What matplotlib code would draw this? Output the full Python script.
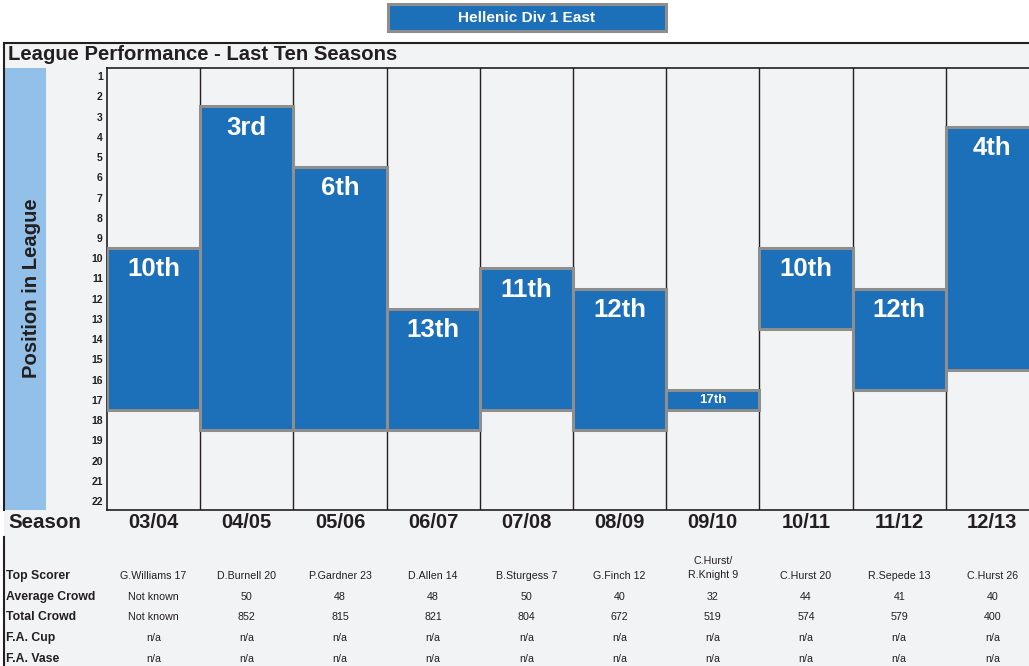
import numpy as np
import matplotlib
matplotlib.use('Agg')
from matplotlib import pyplot as plt
from matplotlib.patches import Rectangle
from matplotlib.lines import Line2D
import matplotlib.transforms as mtrans

plt.rcParams['font.family'] = ['Liberation Sans', 'DejaVu Sans']

seasons = ['03/04', '04/05', '05/06', '06/07', '07/08', '08/09', '09/10', '10/11', '11/12', '12/13']
position = [10, 3, 6, 13, 11, 12, 17, 10, 12, 4]
teams = [17, 18, 18, 18, 17, 18, 17, 13, 16, 15]
pos_label = ['10th', '3rd', '6th', '13th', '11th', '12th', '17th', '10th', '12th', '4th']

row_names = ['Top Scorer', 'Average Crowd', 'Total Crowd', 'F.A. Cup', 'F.A. Vase']
top_scorer = ['G.Williams 17', 'D.Burnell 20', 'P.Gardner 23', 'D.Allen 14', 'B.Sturgess 7',
              'G.Finch 12', 'C.Hurst/\nR.Knight 9', 'C.Hurst 20', 'R.Sepede 13', 'C.Hurst 26']
avg_crowd = ['Not known', '50', '48', '48', '50', '40', '32', '44', '41', '40']
total_crowd = ['Not known', '852', '815', '821', '804', '672', '519', '574', '579', '400']
fa_cup = ['n/a'] * 10
fa_vase = ['n/a'] * 10

W, H = 1029, 666
blue = '#1c6fb9'
edge = '#8e8e8e'
panel = '#f2f3f5'
dark = '#231f20'

def fx(px):
    return px / W

def fy(py):
    return 1 - py / H

fig = plt.figure(figsize=(W / 100, H / 100), dpi=100)
fig.patch.set_facecolor('white')

# outer panel
fig.patches.append(Rectangle((fx(4), 0), 1, fy(43), transform=fig.transFigure,
                             facecolor=panel, edgecolor='none', zorder=0))
fig.lines.append(Line2D([fx(4), 1], [fy(43), fy(43)], transform=fig.transFigure, color=dark, lw=1.5))
fig.lines.append(Line2D([fx(4), fx(4)], [fy(43), fy(510)], transform=fig.transFigure, color=dark, lw=1.5))
fig.lines.append(Line2D([fx(4), fx(4)], [fy(537), 0], transform=fig.transFigure, color=dark, lw=1.5))

# header box
fig.patches.append(Rectangle((fx(388), fy(31)), fx(278), 27 / H, transform=fig.transFigure,
                             facecolor=blue, edgecolor=edge, lw=2.2, zorder=2))
fig.text(fx(527), fy(18), 'Hellenic Div 1 East', color='white', fontsize=11.1,
         fontweight='bold', ha='center', va='center')

fig.text(fx(8), fy(55), 'League Performance - Last Ten Seasons', color=dark, fontsize=14.6,
         fontweight='bold', ha='left', va='center')

# side label
fig.patches.append(Rectangle((fx(5), fy(510)), fx(41), 442 / H, transform=fig.transFigure,
                             facecolor='#92c0e8', edgecolor='none', zorder=1))
fig.text(fx(32), fy(288), 'Position in League', color=dark, fontsize=14.6, fontweight='bold',
         rotation=90, ha='center', va='center')

colw = 93.2
ax = fig.add_axes([fx(107), fy(510), fx(colw * 10), 442 / H])
ax.set_zorder(5)
ax.set_facecolor(panel)
x = np.arange(len(seasons))
bottoms = np.array(position) - 0.5
heights = np.array(teams) - np.array(position) + 1
ax.bar(x + 0.5, heights, bottom=bottoms, width=1.0, color=blue, edgecolor=edge, lw=2.2, zorder=3)
for i in range(len(seasons)):
    if teams[i] - position[i] < 1:
        ax.text(i + 0.5, position[i], pos_label[i], color='white', fontsize=9.5,
                fontweight='bold', ha='center', va='center', zorder=4)
    else:
        ax.text(i + 0.5, position[i] + 0.55, pos_label[i], color='white', fontsize=18.5,
                fontweight='bold', ha='center', va='center', zorder=4)
for b in range(1, 10):
    ax.axvline(b, color=dark, lw=1.0, zorder=1)
ax.set_xlim(0, 10)
ax.set_ylim(22.44, 0.6)
ax.set_yticks(range(1, 23))
ax.set_yticklabels([str(v) for v in range(1, 23)], fontsize=7.5, fontweight='bold', color=dark)
ax.tick_params(axis='y', length=0, pad=3)
ax.set_xticks([])
for s in ['left', 'bottom', 'top']:
    ax.spines[s].set_color(dark)
    ax.spines[s].set_linewidth(1.2)
ax.spines['right'].set_visible(False)

# season row and table
tr = mtrans.blended_transform_factory(ax.transData, fig.transFigure)
fig.text(fx(8), fy(523), 'Season', color=dark, fontsize=14.8, fontweight='bold', ha='left', va='center')
for i, s in enumerate(seasons):
    ax.text(i + 0.5, fy(523), s, transform=tr, color=dark, fontsize=14.5, fontweight='bold',
            ha='center', va='center', clip_on=False)

rows = [top_scorer, avg_crowd, total_crowd, fa_cup, fa_vase]
row_y = [576, 597, 617, 638, 659]
for name, vals, yy in zip(row_names, rows, row_y):
    fig.text(fx(6), fy(yy), name, color=dark, fontsize=8.8, fontweight='bold', ha='left', va='center')
    for i, v in enumerate(vals):
        if '\n' in v:
            ax.text(i + 0.5, fy(yy - 8), v, transform=tr, color=dark, fontsize=7.7,
                    ha='center', va='center', clip_on=False, linespacing=1.45)
        else:
            ax.text(i + 0.5, fy(yy), v, transform=tr, color=dark, fontsize=7.7,
                    ha='center', va='center', clip_on=False)

fig.savefig('out.png', dpi=100, facecolor=fig.get_facecolor())
